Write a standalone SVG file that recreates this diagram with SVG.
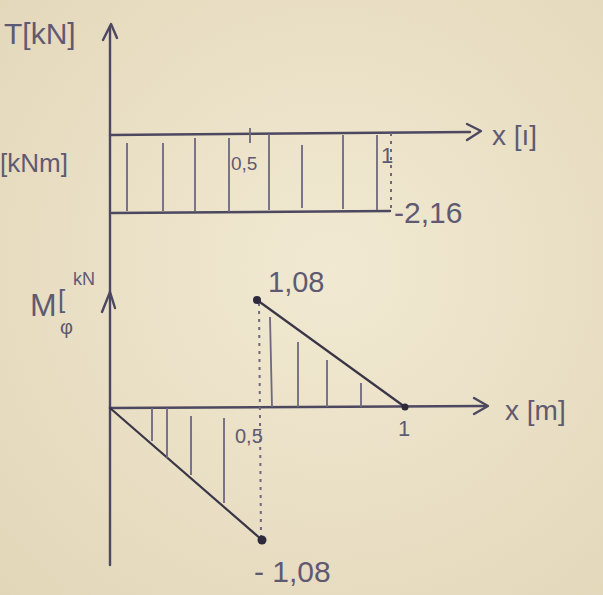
<svg xmlns="http://www.w3.org/2000/svg" width="603" height="595" viewBox="0 0 603 595">
<defs>
<radialGradient id="bg" cx="0.55" cy="0.45" r="0.8">
<stop offset="0" stop-color="#f1e9d2"/>
<stop offset="1" stop-color="#e2d6b8"/>
</radialGradient>
</defs>
<style>
.ax{stroke:#4c4860;stroke-width:2.4;fill:none;stroke-linecap:round;stroke-linejoin:round}
.ln{stroke:#3a3648;stroke-width:2.2;fill:none;stroke-linecap:round}
.h{stroke:#6e6880;stroke-width:1.8;fill:none}
.dot{stroke:#6e6880;stroke-width:2;fill:none;stroke-dasharray:3 5}
.t{font-family:"Liberation Sans","DejaVu Sans",sans-serif;fill:#5f5a72}
.pt{fill:#2e2a3c}
</style>
<rect width="603" height="595" fill="url(#bg)"/>
<g id="axes">
<path class="ax" d="M110,565 L110,28"/>
<path class="ax" d="M103,40 L111,24 L117,38"/>
<path class="ax" d="M110,135 L470,132"/>
<path class="ax" d="M467,124 L481,131 L467,140"/>
<path class="ax" d="M102,312 L110,292 L115,308"/>
<path class="ax" d="M110,408 L486,406"/>
<path class="ax" d="M474,398 L488,406 L474,414"/>
</g>
<g id="shear-diagram">
<path class="ax" d="M112,213 L390,211"/>
<path class="dot" d="M391,133 L391,211"/>
<path class="h" d="M127,143 L127,211 M163,143 L163,211 M195,138 L195,211 M229,138 L229,212 M269,134 L269,210 M302,145 L302,208 M343,135 L343,209 M377,135 L377,210 M250,128 L250,143"/>
</g>
<g id="moment-diagram">
<path class="ln" d="M257,300 L405,407"/>
<path class="ln" d="M110,408 L262,540"/>
<path class="dot" d="M259,303 L261,537"/>
<circle class="pt" cx="257" cy="300" r="4"/>
<circle class="pt" cx="262" cy="540" r="4.5"/>
<circle class="pt" cx="405" cy="407" r="3.5"/>
<path class="h" d="M270,317 L272,407 M298,342 L298,407 M327,360 L327,407 M361,383 L361,407"/>
<path class="h" d="M152,408 L152,441 M167,408 L167,458 M191,416 L191,475 M224,418 L224,503"/>
</g>
<g id="labels">
<text class="t" x="4" y="44" font-size="30">T[kN]</text>
<text class="t" x="0" y="172" font-size="26">[kNm]</text>
<text class="t" x="492" y="145" font-size="28">x [ı]</text>
<text class="t" x="231" y="170" font-size="19">0,5</text>
<text class="t" x="381" y="163" font-size="22">1</text>
<text class="t" x="394" y="223" font-size="30">-2,16</text>
<text class="t" x="30" y="316" font-size="32">M</text>
<text class="t" x="58" y="308" font-size="26">[</text>
<text class="t" x="73" y="285" font-size="18">kN</text>
<text class="t" x="60" y="334" font-size="20">φ</text>
<text class="t" x="268" y="292" font-size="29">1,08</text>
<text class="t" x="505" y="420" font-size="28">x [m]</text>
<text class="t" x="235" y="443" font-size="20">0,5</text>
<text class="t" x="398" y="436" font-size="22">1</text>
<text class="t" x="254" y="582" font-size="30">- 1,08</text>
</g>
</svg>
